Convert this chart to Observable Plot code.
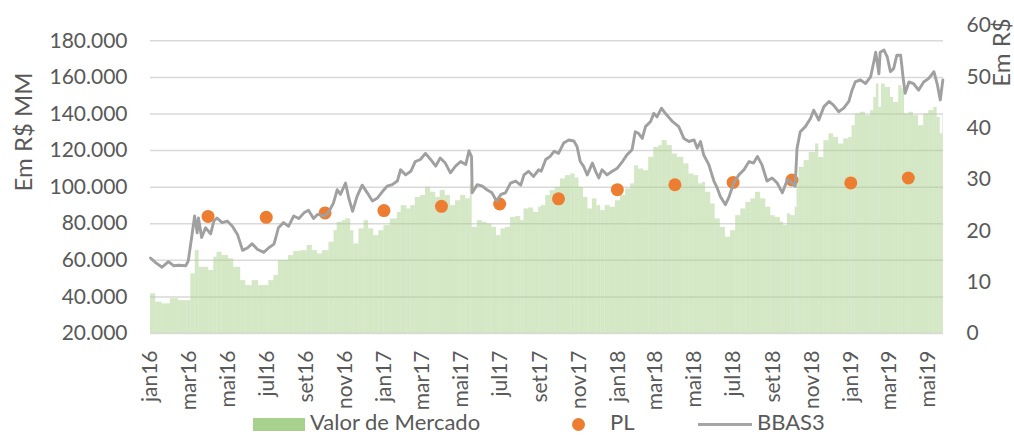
<!DOCTYPE html>
<html><head><meta charset="utf-8">
<script src="https://cdn.jsdelivr.net/npm/d3@7"></script>
<script src="https://cdn.jsdelivr.net/npm/@observablehq/plot@0.6"></script>
<style>
body{margin:0;background:#fff;font-family:Lato,"Open Sans",sans-serif;}
#wrap{position:relative;width:1014px;height:436px;overflow:hidden;}
#legend{position:absolute;left:0;top:410px;width:1014px;height:26px;}
.lt{position:absolute;top:1px;font-size:22px;line-height:22px;color:#595959;white-space:nowrap;}
</style></head><body>
<div id="wrap"><div id="chart"></div>
<div id="legend">
  <div style="position:absolute;left:253px;top:8px;width:52px;height:13px;background:#a9d18e"></div>
  <div class="lt" style="left:310px">Valor de Mercado</div>
  <div style="position:absolute;left:572px;top:8px;width:13px;height:13px;border-radius:50%;background:#ed7d31"></div>
  <div class="lt" style="left:610px">PL</div>
  <div style="position:absolute;left:698px;top:13px;width:54px;height:3px;background:#a5a5a5"></div>
  <div class="lt" style="left:757px">BBAS3</div>
</div></div>
<script>
// BBAS3 price (R$, right axis)
const priceDates = ["2016-01-01","2016-01-09","2016-01-19","2016-01-29","2016-02-06","2016-02-14","2016-02-25","2016-02-29","2016-03-05","2016-03-10","2016-03-14","2016-03-16","2016-03-21","2016-03-27","2016-04-04","2016-04-09","2016-04-14","2016-04-22","2016-04-30","2016-05-08","2016-05-16","2016-05-24","2016-06-01","2016-06-08","2016-06-16","2016-06-26","2016-07-04","2016-07-12","2016-07-15","2016-07-19","2016-07-27","2016-08-04","2016-08-12","2016-08-20","2016-08-28","2016-09-04","2016-09-12","2016-09-18","2016-09-28","2016-10-05","2016-10-13","2016-10-19","2016-10-24","2016-11-01","2016-11-06","2016-11-12","2016-11-19","2016-11-27","2016-12-05","2016-12-13","2016-12-21","2016-12-29","2017-01-05","2017-01-13","2017-01-21","2017-01-26","2017-02-03","2017-02-11","2017-02-18","2017-02-26","2017-03-06","2017-03-14","2017-03-22","2017-03-29","2017-04-06","2017-04-14","2017-04-22","2017-04-30","2017-05-08","2017-05-13","2017-05-17","2017-05-18","2017-05-26","2017-06-03","2017-06-10","2017-06-18","2017-06-25","2017-07-02","2017-07-09","2017-07-17","2017-07-25","2017-08-02","2017-08-07","2017-08-14","2017-08-22","2017-08-30","2017-09-03","2017-09-10","2017-09-17","2017-09-23","2017-09-30","2017-10-08","2017-10-16","2017-10-24","2017-10-29","2017-11-03","2017-11-08","2017-11-14","2017-11-22","2017-11-27","2017-12-02","2017-12-07","2017-12-15","2017-12-23","2017-12-31","2018-01-08","2018-01-15","2018-01-23","2018-01-28","2018-02-02","2018-02-08","2018-02-13","2018-02-21","2018-02-26","2018-03-03","2018-03-10","2018-03-16","2018-03-27","2018-04-06","2018-04-14","2018-04-22","2018-04-30","2018-05-05","2018-05-10","2018-05-15","2018-05-23","2018-05-31","2018-06-05","2018-06-10","2018-06-18","2018-06-23","2018-07-01","2018-07-09","2018-07-17","2018-07-25","2018-08-01","2018-08-07","2018-08-14","2018-08-22","2018-08-30","2018-09-07","2018-09-15","2018-09-23","2018-09-30","2018-10-05","2018-10-08","2018-10-13","2018-10-21","2018-10-29","2018-11-03","2018-11-11","2018-11-19","2018-11-27","2018-12-04","2018-12-12","2018-12-20","2018-12-28","2019-01-02","2019-01-07","2019-01-15","2019-01-23","2019-01-31","2019-02-05","2019-02-08","2019-02-13","2019-02-15","2019-02-21","2019-02-26","2019-03-03","2019-03-08","2019-03-13","2019-03-19","2019-03-23","2019-03-26","2019-04-01","2019-04-08","2019-04-16","2019-04-24","2019-05-02","2019-05-10","2019-05-15","2019-05-20","2019-05-24"];
const prices = [14.7,13.8,12.9,14.0,13.2,13.3,13.2,14.1,18.4,22.9,19.6,22.5,18.7,20.6,19.4,21.9,22.5,21.6,21.9,20.9,19.3,16.2,16.7,17.5,16.4,15.8,16.7,17.4,18.7,20.6,21.6,20.9,22.9,22.4,23.5,24.0,22.4,23.2,22.9,23.5,25.4,28.0,27.1,29.3,26.4,23.8,26.7,28.9,27.4,25.8,26.4,27.7,28.7,29.0,29.7,31.9,30.9,31.6,33.5,33.9,35.1,33.9,32.6,34.2,33.2,31.3,32.6,33.5,32.9,35.6,34.4,27.4,29.0,28.7,28.0,27.4,25.8,27.1,27.4,29.3,29.7,28.9,30.9,31.6,30.6,31.9,31.6,33.9,34.5,35.5,35.1,37.1,37.7,37.5,36.4,33.5,32.6,30.9,33.2,31.6,30.3,31.9,30.9,31.6,32.2,33.5,34.8,35.8,39.3,39.0,38.0,40.3,41.3,42.9,42.2,43.9,42.9,41.3,40.3,38.0,37.4,37.7,36.1,37.4,34.8,32.9,29.7,28.4,26.7,25.1,26.4,29.3,30.9,31.9,33.5,33.2,34.5,32.9,29.7,30.3,29.3,27.4,30.0,29.3,28.7,36.1,39.3,40.3,41.9,43.5,41.6,44.2,45.2,44.5,43.2,43.9,45.2,47.4,49.0,49.4,48.7,50.0,52.9,54.8,50.6,54.8,55.2,53.9,51.0,51.6,54.2,54.2,49.7,46.8,49.0,48.7,47.4,49.0,49.7,51.0,48.7,45.5,49.4];

// Valor de Mercado (R$ MM, left axis)
const mvDates = ["2016-01-01","2016-01-09","2016-01-19","2016-02-01","2016-02-14","2016-02-27","2016-03-04","2016-03-11","2016-03-17","2016-03-24","2016-04-01","2016-04-09","2016-04-14","2016-04-22","2016-05-02","2016-05-10","2016-05-21","2016-05-29","2016-06-08","2016-06-18","2016-06-26","2016-07-04","2016-07-12","2016-07-19","2016-07-25","2016-08-04","2016-08-12","2016-08-23","2016-09-02","2016-09-10","2016-09-18","2016-09-26","2016-10-06","2016-10-14","2016-10-19","2016-10-27","2016-11-01","2016-11-09","2016-11-14","2016-11-22","2016-11-30","2016-12-07","2016-12-15","2016-12-23","2016-12-31","2017-01-10","2017-01-21","2017-01-27","2017-02-05","2017-02-11","2017-02-18","2017-02-26","2017-03-06","2017-03-14","2017-03-22","2017-03-29","2017-04-06","2017-04-14","2017-04-22","2017-04-30","2017-05-08","2017-05-15","2017-05-18","2017-05-26","2017-06-03","2017-06-10","2017-06-18","2017-06-25","2017-07-02","2017-07-09","2017-07-17","2017-07-25","2017-08-02","2017-08-07","2017-08-14","2017-08-22","2017-08-30","2017-09-03","2017-09-10","2017-09-17","2017-09-25","2017-10-03","2017-10-11","2017-10-19","2017-10-26","2017-11-01","2017-11-08","2017-11-15","2017-11-22","2017-11-29","2017-12-05","2017-12-12","2017-12-20","2017-12-28","2018-01-05","2018-01-13","2018-01-21","2018-01-27","2018-02-02","2018-02-10","2018-02-18","2018-02-26","2018-03-06","2018-03-11","2018-03-19","2018-03-27","2018-04-04","2018-04-14","2018-04-22","2018-04-30","2018-05-07","2018-05-13","2018-05-18","2018-05-26","2018-06-02","2018-06-10","2018-06-18","2018-06-26","2018-07-04","2018-07-12","2018-07-20","2018-07-28","2018-08-04","2018-08-12","2018-08-20","2018-08-28","2018-09-04","2018-09-12","2018-09-17","2018-09-23","2018-09-28","2018-10-05","2018-10-08","2018-10-11","2018-10-19","2018-10-27","2018-11-06","2018-11-11","2018-11-19","2018-11-27","2018-12-04","2018-12-12","2018-12-20","2018-12-28","2019-01-02","2019-01-07","2019-01-15","2019-01-23","2019-01-31","2019-02-05","2019-02-09","2019-02-13","2019-02-17","2019-02-23","2019-03-03","2019-03-08","2019-03-16","2019-03-21","2019-03-25","2019-04-01","2019-04-08","2019-04-16","2019-04-24","2019-05-02","2019-05-10","2019-05-15","2019-05-20","2019-05-24"];
const marketValues = [41700,37100,36200,39000,38000,38000,52600,65300,56200,56200,54400,61700,64400,62600,60800,56200,48900,46200,48900,46200,46200,48900,51700,59900,59900,62600,64900,65300,68100,65300,63500,65300,69900,76200,80800,81700,82600,76200,69000,77200,81700,77200,73500,76200,79000,82600,86200,89900,88100,89900,94400,95400,99900,97200,94400,98100,95400,89900,92600,95400,93600,101800,78000,81700,80800,79900,78000,73500,77200,78000,83500,83900,81700,88100,88600,86200,89000,89900,95400,98100,99900,104500,106300,107200,105000,99900,94400,88100,93600,89900,87200,89900,89000,92600,95400,99000,101800,111700,109900,109000,116300,121700,122700,125400,122700,118100,116300,112700,107200,106300,101800,102600,97200,90800,82600,78000,72600,76200,84400,88100,91700,93600,97200,93600,89000,84400,83500,80800,79000,85400,84400,89000,104000,110800,114500,119000,123600,116300,125400,129100,127200,123600,126300,127200,133600,140000,140900,139100,141800,149000,156400,143600,156400,154500,149000,146300,155400,153600,140000,140900,139100,133600,140000,141800,143600,138100,129100,140000];
const mvEndDate = "2019-05-25";

// PL (R$ MM, left axis)
const plDates = ["2016-03-31","2016-06-30","2016-09-30","2016-12-31","2017-03-31","2017-06-30","2017-09-30","2017-12-31","2018-03-31","2018-06-30","2018-09-30","2018-12-31","2019-03-31"];
const plValues = [84000,83500,85900,87200,89500,90800,93600,98600,101300,102600,103900,102300,105000];

const leftTicks = [20000,40000,60000,80000,100000,120000,140000,160000,180000];
const rightTicks = [0,10,20,30,40,50,60];
const xTickDates = ["2016-01-01","2016-03-01","2016-05-01","2016-07-01","2016-09-01","2016-11-01","2017-01-01","2017-03-01","2017-05-01","2017-07-01","2017-09-01","2017-11-01","2018-01-01","2018-03-01","2018-05-01","2018-07-01","2018-09-01","2018-11-01","2019-01-01","2019-03-01","2019-05-01"];
const monthNames = ["jan","fev","mar","abr","mai","jun","jul","ago","set","out","nov","dez"];

const K = 2806; // right-axis unit expressed in left-axis units
const toLeft = v => 20000 + v * K;
const fmt = d3.formatLocale({decimal: ",", thousands: ".", grouping: [3], currency: ["R$", ""]}).format(",.0f");
const parse = s => new Date(s + "T00:00:00Z");

const mv = mvDates.map((d, i) => ({x1: parse(d), x2: parse(mvDates[i + 1] ?? mvEndDate), v: marketValues[i]}));
const price = priceDates.map((d, i) => ({x: parse(d), p: prices[i]}));
const pl = plDates.map((d, i) => ({x: parse(d), v: plValues[i]}));

const chart = Plot.plot({
  width: 1014, height: 410,
  marginLeft: 150, marginRight: 71, marginTop: 22, marginBottom: 77,
  style: {fontFamily: "Lato, 'Open Sans', sans-serif", fontSize: "21px", color: "#595959", background: "#fff", overflow: "visible"},
  x: {type: "utc", domain: [parse("2016-01-01"), parse(mvEndDate)]},
  y: {domain: [20000, 190000]},
  marks: [
    Plot.gridY(leftTicks, {stroke: "#d9d9d9", strokeOpacity: 1, strokeWidth: 1.5}),
    Plot.rectY(mv, {x1: "x1", x2: "x2", y1: 20000, y2: "v", fill: "#a9d18e", fillOpacity: 0.5}),
    Plot.dot(pl, {x: "x", y: "v", r: 6.5, fill: "#ed7d31", stroke: "none"}),
    Plot.line(price, {x: "x", y: d => toLeft(d.p), stroke: "#a0a0a0", strokeWidth: 2.9, strokeLinejoin: "round"}),
    Plot.axisY(leftTicks, {anchor: "left", tickSize: 0, tickPadding: 23, tickFormat: fmt, label: null, fill: "#595959"}),
    Plot.axisY(rightTicks.map(toLeft), {anchor: "right", tickSize: 0, tickPadding: 23, tickFormat: d => String(Math.round((d - 20000) / K)), label: null, fill: "#595959"}),
    Plot.axisX(xTickDates.map(parse), {anchor: "bottom", tickSize: 0, tickPadding: 17, tickRotate: -90, label: null, fill: "#595959",
      tickFormat: d => monthNames[d.getUTCMonth()] + String(d.getUTCFullYear()).slice(2)}),
    Plot.text(["Em R$ MM"], {frameAnchor: "left", dx: -126, dy: -46, rotate: -90, fontSize: 24, fill: "#595959", textAnchor: "middle", lineAnchor: "middle"}),
    Plot.text(["Em R$"], {frameAnchor: "top-right", dx: 59, dy: 30, rotate: -90, fontSize: 24, fill: "#595959", textAnchor: "middle", lineAnchor: "middle"})
  ]
});
document.getElementById("chart").appendChild(chart);
</script>
</body></html>
